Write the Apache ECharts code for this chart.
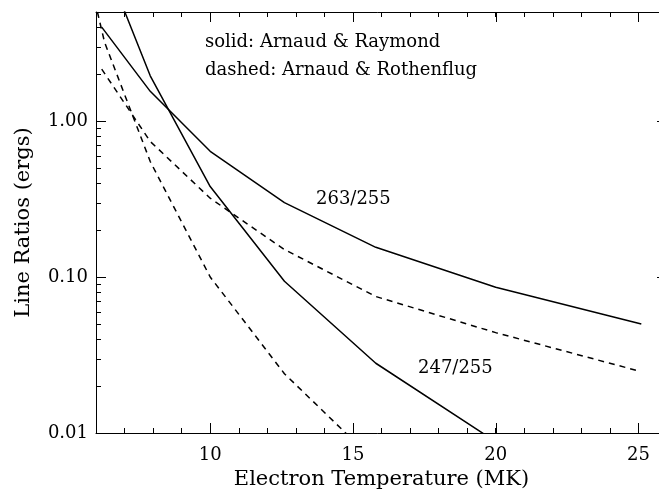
<!DOCTYPE html>
<html>
<head>
<meta charset="utf-8">
<script src="https://cdn.jsdelivr.net/npm/echarts@6/dist/echarts.min.js"></script>
<style>
  html, body { margin: 0; padding: 0; background: #fff; }
  #chart { width: 659px; height: 491px; }
</style>
</head>
<body>
<div id="chart"></div>
<script>
// electron temperature (MK) and line ratios
var tempSolid263 = [6.2, 7.9, 10, 12.6, 15.8, 20, 25.1];
var ratioSolid263 = [4.0, 1.55, 0.64, 0.30, 0.155, 0.086, 0.050];

var tempSolid247 = [6.3, 7.9, 10, 12.6, 15.8, 20];
var ratioSolid247 = [10.6, 1.95, 0.38, 0.094, 0.028, 0.0088];

var tempDashed263 = [6.2, 7.9, 10, 12.6, 15.8, 20, 25];
var ratioDashed263 = [2.15, 0.74, 0.32, 0.15, 0.075, 0.044, 0.025];

var tempDashed247 = [6.05, 6.3, 7.9, 10, 12.6, 15.8];
var ratioDashed247 = [5.0, 3.2, 0.55, 0.10, 0.024, 0.0065];

var xMajorTicks = [10, 15, 20, 25];
var yMajorLabels = [0.01, 0.1, 1];
var yMinorTicks = [0.02, 0.03, 0.04, 0.05, 0.06, 0.07, 0.08, 0.09,
                   0.2, 0.3, 0.4, 0.5, 0.6, 0.7, 0.8, 0.9, 2, 3, 4];

var X_MIN = 6, X_MAX = 26, Y_MIN = 0.01, Y_MAX = 5;
var FONT = 'DejaVu Serif';

function pairs(xs, ys) {
    var out = [];
    for (var i = 0; i < xs.length; i++) out.push([xs[i], ys[i]]);
    return out;
}

function axisLine() {
    return { show: true, onZero: false, lineStyle: { color: '#000', width: 1 } };
}

function xAx(pos, labels) {
    return {
        type: 'value', position: pos, min: X_MIN, max: X_MAX, interval: 1,
        axisLine: axisLine(),
        splitLine: { show: false },
        axisTick: { show: true, inside: true, length: 5, lineStyle: { color: '#000' } },
        axisLabel: labels ? {
            show: true, margin: 13, color: '#000', fontFamily: FONT, fontSize: 18,
            formatter: function (v) { return xMajorTicks.indexOf(v) >= 0 ? String(v) : ''; }
        } : { show: false }
    };
}

function yLog(pos, labels) {
    return {
        type: 'log', logBase: 10, position: pos, min: Y_MIN, max: Y_MAX,
        axisLine: axisLine(),
        splitLine: { show: false },
        axisTick: { show: true, inside: true, length: 10, lineStyle: { color: '#000' } },
        axisLabel: labels ? {
            show: true, margin: 8, color: '#000', fontFamily: FONT, fontSize: 18,
            formatter: function (v) {
                for (var i = 0; i < yMajorLabels.length; i++) {
                    if (Math.abs(v - yMajorLabels[i]) < 1e-6) return yMajorLabels[i].toFixed(2);
                }
                return '';
            }
        } : { show: false }
    };
}

var xBottom = xAx('bottom', true);
xBottom.name = 'Electron Temperature (MK)';
xBottom.nameLocation = 'middle';
xBottom.nameGap = 34;
xBottom.nameTextStyle = { color: '#000', fontFamily: FONT, fontSize: 21 };

var yLeft = yLog('left', true);
yLeft.name = 'Line Ratios (ergs)';
yLeft.nameLocation = 'middle';
yLeft.nameGap = 62;
yLeft.nameTextStyle = { color: '#000', fontFamily: FONT, fontSize: 21 };

function series(xs, ys, dashed) {
    return {
        type: 'line', xAxisIndex: 0, yAxisIndex: 0,
        data: pairs(xs, ys), symbol: 'none', clip: true,
        lineStyle: { color: '#000', width: 1.5, type: dashed ? [6, 5] : 'solid' }
    };
}

function tickLine(x1, y1, x2, y2) {
    return { type: 'line', shape: { x1: x1, y1: y1, x2: x2, y2: y2 }, style: { stroke: '#000', lineWidth: 1 } };
}

// extra tick marks: long x ticks at the majors, short log y ticks between decades
var xMajorTickSeries = {
    type: 'custom', xAxisIndex: 0, yAxisIndex: 0, silent: true, clip: false,
    data: xMajorTicks.map(function (v) { return [v, 1]; }),
    renderItem: function (params, api) {
        var v = api.value(0);
        var b = api.coord([v, Y_MIN]), t = api.coord([v, Y_MAX]);
        var x = Math.round(b[0]) + 0.5;
        return { type: 'group', children: [tickLine(x, b[1], x, b[1] - 10), tickLine(x, t[1], x, t[1] + 10)] };
    }
};

var yMinorTickSeries = {
    type: 'custom', xAxisIndex: 0, yAxisIndex: 0, silent: true, clip: false,
    data: yMinorTicks.map(function (v) { return [X_MIN, v]; }),
    renderItem: function (params, api) {
        var v = api.value(1);
        var l = api.coord([X_MIN, v]), r = api.coord([X_MAX, v]);
        var y = Math.round(l[1]) + 0.5;
        return { type: 'group', children: [tickLine(l[0], y, l[0] + 5, y), tickLine(r[0], y, r[0] - 5, y)] };
    }
};

function note(text, x, y) {
    return {
        type: 'text', x: x, y: y,
        style: { text: text, fill: '#000', font: '18px "' + FONT + '"', verticalAlign: 'middle' }
    };
}

var chart = echarts.init(document.getElementById('chart'), null, { renderer: 'canvas' });
chart.setOption({
    animation: false,
    backgroundColor: '#fff',
    grid: { left: 96, right: -8, top: 12, bottom: 58, containLabel: false, outerBoundsMode: 'none' },
    xAxis: [xBottom, xAx('top', false)],
    yAxis: [yLeft, yLog('right', false)],
    series: [
        series(tempSolid263, ratioSolid263, false),
        series(tempSolid247, ratioSolid247, false),
        series(tempDashed263, ratioDashed263, true),
        series(tempDashed247, ratioDashed247, true),
        xMajorTickSeries,
        yMinorTickSeries
    ],
    graphic: [
        note('solid: Arnaud & Raymond', 205, 42),
        note('dashed: Arnaud & Rothenflug', 205, 70),
        note('263/255', 316, 199),
        note('247/255', 418, 368)
    ]
});
</script>
</body>
</html>
